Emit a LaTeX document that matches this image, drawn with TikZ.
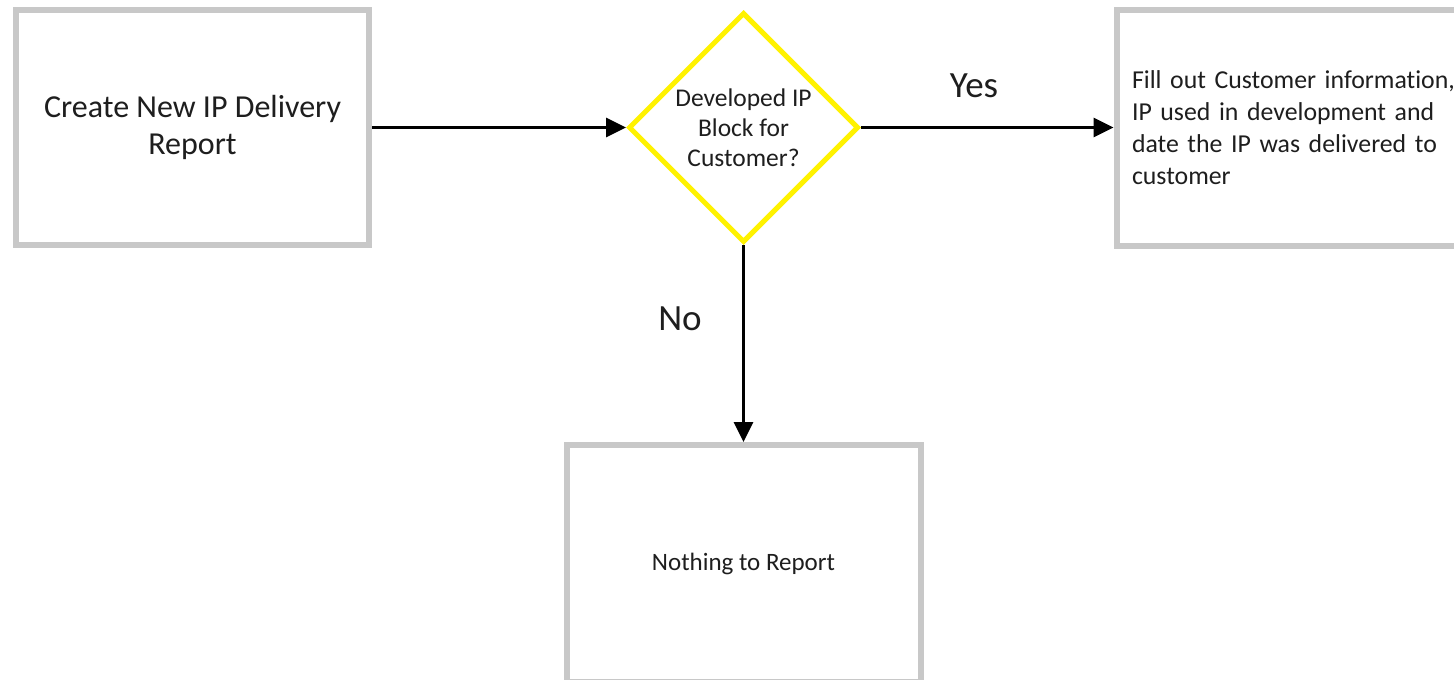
\documentclass[tikz,border=0pt]{standalone}
\usepackage{fontspec}
\setmainfont{Carlito}[Ligatures=NoCommon]
\usetikzlibrary{shapes.geometric,arrows.meta}
\definecolor{boxgray}{RGB}{200,200,200}
\definecolor{dyellow}{RGB}{255,242,0}
\definecolor{txt}{RGB}{30,30,30}
\begin{document}
\begin{tikzpicture}[x=1pt,y=-1pt,
  box/.style={draw=boxgray, line width=6pt, fill=white, inner sep=0pt, text=txt},
  decision/.style={diamond, draw=dyellow, line width=5pt, inner sep=0pt, minimum width=230pt, minimum height=230pt, aspect=1, text=txt, align=center},
  conn/.style={line width=3pt, draw=black, -{Triangle[length=20pt,width=19pt]}},
  lbl/.style={font=\fontsize{37}{44}\selectfont, text=txt, anchor=base, inner sep=0pt}]
\useasboundingbox (0,0) rectangle (1454,680);
\node[box, minimum width=353pt, minimum height=235pt, align=center, font=\fontsize{32}{37.5}\selectfont] (create) at (192.5,127.5) {\rule{0pt}{6pt}Create New IP Delivery\\Report};
\node[decision, font=\fontsize{25.5}{30}\selectfont] (dec) at (743.5,127.5) {Developed IP\\Block for\\Customer?};
\node[box, minimum width=363.5pt, minimum height=236pt, text width=332.5pt, align=left, font=\fontsize{25.8}{31.8}\selectfont] (fill) at (1298.25,127.5) {Fill out Customer information,\\IP used in development and\\date the IP was delivered to\\customer};
\node[box, minimum width=354pt, minimum height=237pt, font=\fontsize{25}{30}\selectfont] (nothing) at (743.5,563.5) {Nothing to Report};
\draw[conn] (create.east) -- (dec.west);
\draw[conn] (dec.east) -- (fill.west);
\draw[conn] (dec.south) -- (nothing.north);
\node[lbl] (yes) at (974,97) {Yes};
\node[lbl] (no) at (680,330) {No};
\end{tikzpicture}
\end{document}
